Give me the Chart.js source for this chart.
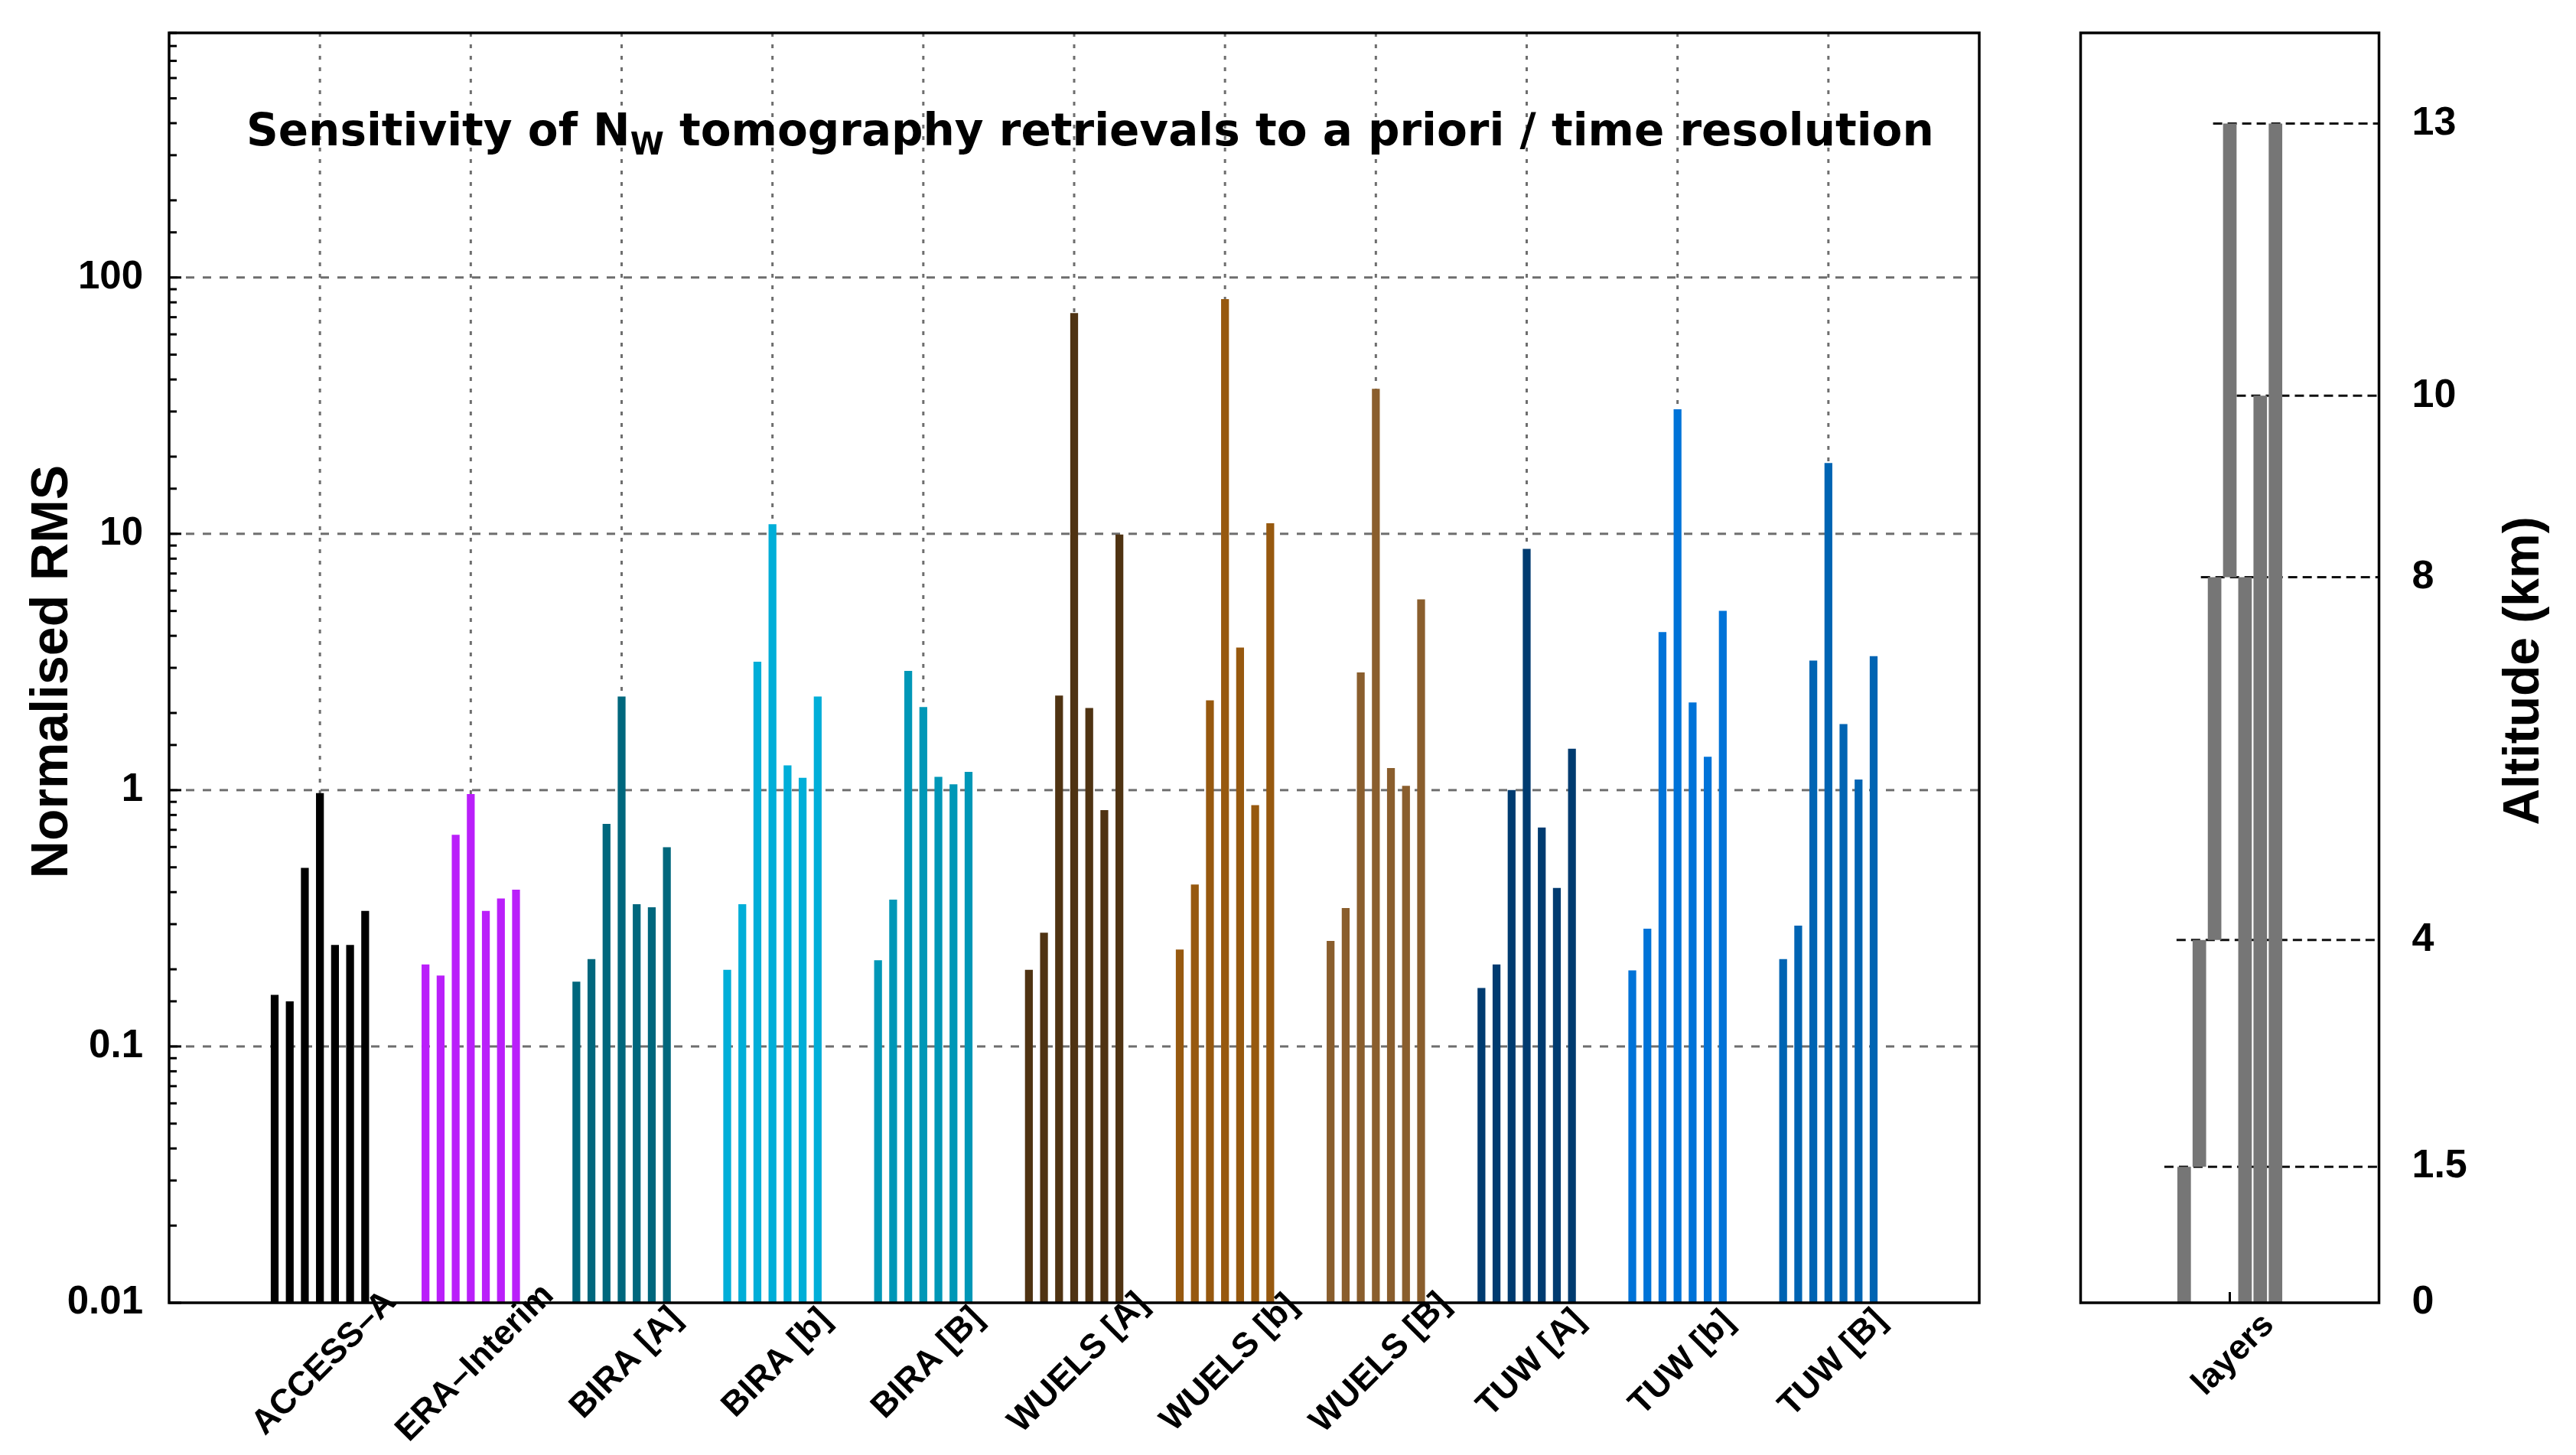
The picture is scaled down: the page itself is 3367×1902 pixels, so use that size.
<!DOCTYPE html>
<html>
<head>
<meta charset="utf-8">
<script src="https://cdn.jsdelivr.net/npm/chart.js@4.4.1/dist/chart.umd.min.js"></script>
<style>
  html, body { margin: 0; padding: 0; background: #fff; }
  #wrap { position: relative; width: 3367px; height: 1902px; }
  canvas { position: absolute; top: 0; }
  #rms { left: 0; }
  #alt { left: 2660px; }
</style>
</head>
<body>
<div id="wrap">
  <canvas id="rms" width="2660" height="1902"></canvas>
  <canvas id="alt" width="707" height="1902"></canvas>
</div>
<script>
const groups = ['ACCESS–A', 'ERA–Interim', 'BIRA [A]', 'BIRA [b]', 'BIRA [B]', 'WUELS [A]', 'WUELS [b]', 'WUELS [B]', 'TUW [A]', 'TUW [b]', 'TUW [B]'];
const groupColors = ['#000000', '#BA1FFA', '#00677D', '#00AED8', '#0097B7', '#4F3312', '#97590F', '#8A5E2D', '#003B70', '#0073D8', '#0064B3'];

// one array per bar position inside each group (7 bars per group)
const bar1 = [0.159, 0.209, 0.179, 0.199, 0.217, 0.199, 0.239, 0.258, 0.169, 0.198, 0.219];
const bar2 = [0.150, 0.189, 0.219, 0.359, 0.374, 0.278, 0.428, 0.347, 0.209, 0.288, 0.296];
const bar3 = [0.497, 0.669, 0.738, 3.17, 2.92, 2.34, 2.24, 2.88, 1.00, 4.14, 3.20];
const bar4 = [0.973, 0.966, 2.32, 10.9, 2.11, 72.6, 82.4, 36.8, 8.74, 30.6, 18.9];
const bar5 = [0.249, 0.338, 0.359, 1.25, 1.127, 2.09, 3.60, 1.22, 0.715, 2.20, 1.81];
const bar6 = [0.249, 0.378, 0.349, 1.117, 1.053, 0.836, 0.874, 1.04, 0.415, 1.35, 1.10];
const bar7 = [0.338, 0.409, 0.599, 2.32, 1.178, 9.93, 11.0, 5.55, 1.45, 5.01, 3.33];
const yTickLabels = ['0.01', '0.1', '1', '10', '100'];

// right panel: layer limits (km)
const layerBottoms = [0, 1.5, 4, 8, 0, 0, 0];
const layerTops = [1.5, 4, 8, 13, 8, 10, 13];
const altTicks = [0, 1.5, 4, 8, 10, 13];
const levelLines = [13, 10, 8, 4, 1.5];
const levelLineStarts = [-1.1, 0.45, -1.9, -3.5, -4.3];

const seriesList = [bar1, bar2, bar3, bar4, bar5, bar6, bar7];
const padded = arr => [null, ...arr, null];
const isDecade = v => Math.abs(Math.log10(v) - Math.round(Math.log10(v))) < 1e-6;

function strokeLine(ctx, x1, y1, x2, y2) {
  ctx.beginPath();
  ctx.moveTo(x1, y1);
  ctx.lineTo(x2, y2);
  ctx.stroke();
}

// keep the plot frame where we put it: no extra room for end labels
function noEndPadding(s) {
  s.paddingTop = 0;
  s.paddingBottom = 0;
  s.paddingLeft = 0;
  s.paddingRight = 0;
}

const rmsDecor = {
  id: 'rmsDecor',
  beforeDatasetsDraw(chart) {
    const { ctx, chartArea: a, scales: { x, y } } = chart;
    ctx.save();
    ctx.strokeStyle = '#6e6e6e';
    ctx.lineWidth = 3;
    ctx.setLineDash([5, 10]);
    for (let i = 1; i <= groups.length; i++) {
      const px = x.getPixelForValue(i);
      strokeLine(ctx, px, a.top, px, a.bottom);
    }
    ctx.setLineDash([11, 11]);
    y.ticks.forEach(t => {
      if (isDecade(t.value) && t.value > y.min * 1.01 && t.value < y.max) {
        const py = y.getPixelForValue(t.value);
        strokeLine(ctx, a.left, py, a.right, py);
      }
    });
    ctx.restore();
  },
  afterDraw(chart) {
    const { ctx, chartArea: a, scales: { x, y } } = chart;
    ctx.save();
    ctx.strokeStyle = '#000';
    ctx.lineWidth = 3;
    y.ticks.forEach(t => {
      const py = y.getPixelForValue(t.value);
      strokeLine(ctx, a.left, py, a.left + (isDecade(t.value) ? 16 : 10), py);
    });
    ctx.lineWidth = 3.5;
    ctx.strokeRect(a.left, a.top, a.width, a.height);

    ctx.fillStyle = '#000';
    ctx.font = 'bold 45px "Liberation Sans"';
    ctx.textAlign = 'center';
    ctx.textBaseline = 'middle';
    groups.forEach((g, i) => {
      ctx.save();
      ctx.translate(x.getPixelForValue(i + 1) + 6, a.bottom + 79);
      ctx.rotate(-Math.PI / 4);
      ctx.fillText(g, 0, 0);
      ctx.restore();
    });

    // title with subscript
    ctx.textAlign = 'left';
    ctx.textBaseline = 'alphabetic';
    let tx = a.left + 101;
    const ty = a.top + 147;
    ctx.font = 'bold 58px "DejaVu Sans"';
    const part1 = 'Sensitivity of N';
    ctx.fillText(part1, tx, ty);
    tx += ctx.measureText(part1).width;
    ctx.font = 'bold 40px "DejaVu Sans"';
    ctx.fillText('W', tx, ty + 12);
    tx += ctx.measureText('W').width;
    ctx.font = 'bold 58px "DejaVu Sans"';
    ctx.fillText(' tomography retrievals to a priori / time resolution', tx, ty);

    ctx.font = 'bold 68px "Liberation Sans"';
    ctx.textAlign = 'center';
    ctx.translate(88, 878);
    ctx.rotate(-Math.PI / 2);
    ctx.fillText('Normalised RMS', 0, 0);
    ctx.restore();
  }
};

new Chart(document.getElementById('rms'), {
  type: 'bar',
  data: {
    labels: ['', ...groups, ''],
    datasets: seriesList.map((s, k) => ({
      label: 'bar ' + (k + 1),
      data: padded(s),
      backgroundColor: ctx => groupColors[ctx.dataIndex - 1] || '#000',
      borderWidth: 0,
      categoryPercentage: 0.70,
      barPercentage: 0.52
    }))
  },
  options: {
    responsive: false,
    devicePixelRatio: 1,
    animation: false,
    layout: { padding: { top: 43, right: 73, left: 0, bottom: 0 } },
    plugins: { legend: { display: false }, tooltip: { enabled: false } },
    scales: {
      x: {
        offset: false,
        grid: { display: false, drawTicks: false, offset: false },
        border: { display: false },
        ticks: { display: false },
        afterFit: s => { s.height = 199; noEndPadding(s); }
      },
      y: {
        type: 'logarithmic',
        min: 0.01,
        max: 900,
        grid: { display: false, drawTicks: false },
        border: { display: false },
        ticks: {
          autoSkip: false,
          padding: 34,
          color: '#000',
          font: { family: 'Liberation Sans', weight: 'bold', size: 51 },
          callback: v => isDecade(v) ? yTickLabels[Math.round(Math.log10(v)) + 2] : ''
        },
        afterFit: s => { s.width = 221; noEndPadding(s); }
      }
    }
  },
  plugins: [rmsDecor]
});

const altDecor = {
  id: 'altDecor',
  afterDraw(chart) {
    const { ctx, chartArea: a, scales: { x } } = chart;
    ctx.save();
    ctx.strokeStyle = '#000';
    ctx.lineWidth = 3;
    const cx = x.getPixelForValue(0);
    strokeLine(ctx, cx, a.bottom, cx, a.bottom - 14);
    ctx.lineWidth = 3.5;
    ctx.strokeRect(a.left, a.top, a.width, a.height);

    ctx.fillStyle = '#000';
    ctx.font = 'bold 45px "Liberation Sans"';
    ctx.textAlign = 'center';
    ctx.textBaseline = 'middle';
    ctx.save();
    ctx.translate(cx + 5, a.bottom + 68);
    ctx.rotate(-Math.PI / 4);
    ctx.fillText('layers', 0, 0);
    ctx.restore();

    ctx.font = 'bold 66px "Liberation Sans"';
    ctx.textBaseline = 'alphabetic';
    ctx.translate(658, 877);
    ctx.rotate(-Math.PI / 2);
    ctx.fillText('Altitude (km)', 0, 0);
    ctx.restore();
  }
};

new Chart(document.getElementById('alt'), {
  type: 'bar',
  data: {
    datasets: [
      {
        type: 'bar',
        label: 'layers',
        data: layerTops.map((t, i) => ({ x: i - 3, y: [layerBottoms[i], t] })),
        backgroundColor: '#767676',
        borderWidth: 0,
        barPercentage: 0.89,
        categoryPercentage: 1,
        order: 0
      },
      ...levelLines.map((lv, k) => ({
        type: 'line',
        label: 'level ' + lv,
        data: [{ x: levelLineStarts[k], y: lv }, { x: 9.8, y: lv }],
        borderColor: '#111',
        borderWidth: 3,
        borderDash: [12, 7],
        pointRadius: 0,
        fill: false,
        order: 1
      }))
    ]
  },
  options: {
    responsive: false,
    devicePixelRatio: 1,
    animation: false,
    layout: { padding: { left: 59.5, top: 43, right: 0, bottom: 0 } },
    plugins: { legend: { display: false }, tooltip: { enabled: false } },
    scales: {
      x: {
        type: 'linear',
        min: -9.8,
        max: 9.8,
        offset: false,
        grid: { display: false, drawTicks: false, offset: false },
        border: { display: false },
        ticks: { display: false },
        afterBuildTicks: s => { s.ticks = [{ value: 0 }]; },
        afterFit: s => { s.height = 199; noEndPadding(s); }
      },
      y: {
        position: 'right',
        min: 0,
        max: 14,
        grid: { display: false, drawTicks: false },
        border: { display: false },
        afterBuildTicks: s => { s.ticks = altTicks.map(v => ({ value: v })); },
        ticks: {
          padding: 43,
          color: '#000',
          font: { family: 'Liberation Sans', weight: 'bold', size: 52 },
          callback: v => String(v)
        },
        afterFit: s => { s.width = 257.5; noEndPadding(s); }
      }
    }
  },
  plugins: [altDecor]
});
</script>
</body>
</html>
